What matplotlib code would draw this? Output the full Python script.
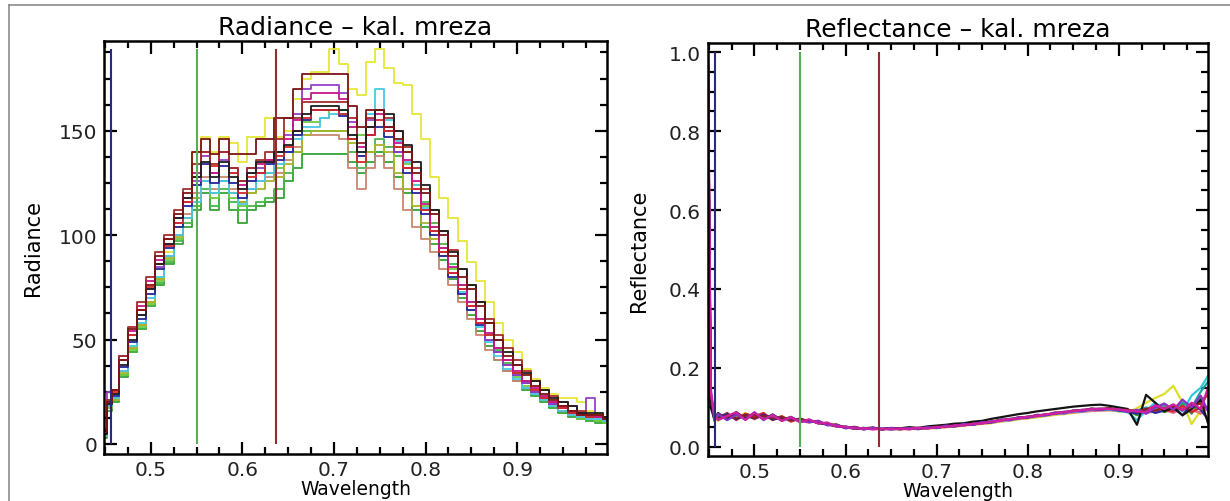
import matplotlib
matplotlib.use("Agg")
import matplotlib.pyplot as plt
from matplotlib.lines import Line2D
from matplotlib.ticker import MultipleLocator, FormatStrFormatter

# ---------------- radiance panel data ----------------
# wavelength samples (micrometres)
wl_rad = [0.449, 0.455,
          0.46, 0.47, 0.48, 0.49, 0.50, 0.51, 0.52, 0.53, 0.54, 0.55,
          0.56, 0.57, 0.58, 0.59, 0.60, 0.61, 0.62, 0.63, 0.64, 0.65,
          0.66, 0.67, 0.68, 0.69, 0.70, 0.71, 0.72, 0.73, 0.74, 0.75,
          0.76, 0.77, 0.78, 0.79, 0.80, 0.81, 0.82, 0.83, 0.84, 0.85,
          0.86, 0.87, 0.88, 0.89, 0.90, 0.91, 0.92, 0.93, 0.94, 0.95,
          0.96, 0.97, 0.98, 0.99,
          0.998]

rad_green = [3, 16,
             20, 32, 44, 55, 66, 76, 86, 96, 104, 112,
             120, 112, 120, 112, 106, 112, 114, 116, 118, 126,
             132, 139, 139, 139, 139, 139, 135, 130, 135, 140,
             135, 128, 120, 112, 104, 96, 88, 79, 70, 62,
             54, 47, 40, 35, 30, 26, 23, 20, 17, 15,
             13, 12, 11, 10,
             10]
rad_green2 = [4, 17,
              21, 33, 44, 55, 66, 77, 87, 97, 106, 114,
              122, 114, 122, 116, 112, 114, 116, 118, 122, 130,
              140, 150, 150, 150, 150, 150, 140, 132, 140, 146,
              142, 138, 132, 124, 116, 106, 96, 86, 76, 68,
              60, 52, 45, 39, 34, 29, 25, 22, 19, 16,
              14, 12, 11, 11,
              10]
rad_lightgreen = [4, 17,
                  21, 33, 45, 56, 67, 78, 88, 98, 108, 118,
                  126, 118, 126, 118, 114, 120, 126, 130, 132, 140,
                  148, 154, 154, 156, 160, 160, 152, 148, 152, 160,
                  150, 142, 134, 124, 114, 104, 94, 84, 74, 66,
                  58, 50, 44, 38, 32, 28, 24, 21, 18, 16,
                  14, 12, 12, 11,
                  10]
rad_yellow = [4, 18,
              22, 35, 47, 58, 68, 80, 92, 104, 118, 140,
              147, 140, 147, 144, 135, 147, 147, 156, 147, 150,
              165, 175, 178, 178, 189, 182, 170, 167, 183, 189,
              180, 173, 172, 158, 146, 128, 118, 108, 97, 87,
              78, 68, 58, 50, 44, 36, 31, 27, 24, 22,
              22, 20, 16, 15,
              13]
rad_salmon = [5, 18,
              22, 35, 46, 57, 68, 79, 90, 100, 110, 120,
              128, 122, 128, 122, 116, 122, 126, 128, 130, 136,
              142, 148, 148, 148, 148, 146, 132, 122, 132, 138,
              132, 122, 112, 104, 98, 92, 84, 76, 68, 60,
              52, 45, 40, 35, 30, 27, 24, 21, 18, 16,
              14, 13, 12, 12,
              11]
rad_olive = [4, 17,
             21, 34, 46, 57, 68, 79, 89, 99, 108, 118,
             126, 120, 126, 120, 116, 120, 122, 126, 128, 134,
             140, 148, 150, 150, 150, 150, 144, 138, 140, 143,
             140, 130, 122, 114, 106, 98, 90, 82, 74, 66,
             58, 50, 44, 38, 33, 29, 26, 23, 20, 18,
             16, 15, 14, 12,
             11]
rad_cyan = [4, 18,
            22, 35, 47, 58, 70, 80, 90, 100, 108, 116,
            126, 120, 126, 120, 115, 122, 126, 130, 134, 140,
            146, 152, 152, 156, 158, 158, 148, 140, 158, 170,
            155, 145, 135, 124, 113, 102, 92, 82, 73, 64,
            56, 49, 42, 36, 31, 27, 24, 21, 18, 16,
            14, 13, 12, 12,
            11]
rad_blue = [5, 19,
            23, 37, 49, 60, 72, 84, 94, 104, 114, 124,
            134, 125, 133, 125, 118, 126, 130, 134, 136, 140,
            148, 155, 160, 160, 160, 157, 146, 138, 148, 152,
            147, 140, 130, 120, 110, 100, 90, 80, 72, 64,
            57, 50, 44, 38, 33, 29, 25, 22, 19, 17,
            15, 14, 13, 13,
            12]
rad_purple = [7, 25,
              24, 40, 52, 62, 74, 85, 96, 106, 116, 126,
              138, 130, 136, 130, 126, 132, 132, 136, 140, 148,
              158, 170, 172, 172, 172, 168, 154, 144, 155, 160,
              150, 140, 132, 122, 112, 102, 92, 82, 74, 66,
              58, 50, 44, 38, 33, 29, 25, 22, 19, 17,
              16, 15, 22, 14,
              13]
rad_red = [6, 21,
           25, 40, 52, 64, 75, 86, 95, 106, 116, 128,
           140, 133, 140, 130, 120, 128, 130, 135, 138, 142,
           150, 156, 160, 160, 160, 158, 146, 135, 148, 155,
           150, 142, 132, 122, 112, 102, 92, 82, 74, 66,
           58, 52, 46, 40, 34, 30, 26, 22, 20, 17,
           15, 14, 13, 13,
           12]
rad_magenta = [5, 20,
               26, 42, 54, 66, 78, 88, 98, 108, 118, 130,
               140, 130, 140, 132, 124, 130, 134, 136, 140, 146,
               155, 165, 168, 168, 168, 165, 152, 142, 152, 158,
               152, 144, 136, 126, 115, 104, 94, 85, 76, 68,
               60, 53, 46, 40, 35, 30, 27, 23, 20, 18,
               16, 14, 14, 13,
               12]
rad_brown = [6, 21,
             26, 42, 56, 68, 80, 92, 100, 112, 122, 134,
             140, 134, 140, 132, 126, 132, 136, 140, 146, 156,
             156, 164, 164, 164, 164, 164, 156, 144, 156, 160,
             156, 150, 142, 132, 122, 112, 102, 93, 84, 76,
             68, 60, 52, 46, 40, 35, 30, 26, 23, 20,
             18, 16, 14, 14,
             13]
rad_black = [5, 19,
             24, 38, 50, 62, 74, 86, 96, 108, 118, 128,
             135, 128, 135, 128, 122, 130, 135, 135, 140, 143,
             150, 158, 162, 162, 162, 160, 148, 140, 152, 160,
             158, 150, 143, 135, 124, 112, 102, 92, 84, 76,
             68, 58, 50, 44, 38, 34, 30, 26, 22, 20,
             18, 15, 15, 15,
             13]
rad_maroon = [6, 20,
              26, 40, 55, 64, 76, 90, 98, 110, 120, 140,
              146, 139, 146, 139, 139, 139, 146, 146, 156, 156,
              170, 177, 177, 177, 177, 177, 162, 152, 160, 160,
              152, 146, 140, 130, 120, 110, 100, 90, 80, 74,
              66, 58, 50, 42, 38, 33, 28, 24, 21, 18,
              16, 14, 14, 14,
              12]

# ---------------- reflectance panel data (per mille) ----------------
wl_ref = [0.449, 0.452, 0.456,
          0.46, 0.47, 0.48, 0.49, 0.50, 0.51, 0.52, 0.53, 0.54, 0.55,
          0.56, 0.57, 0.58, 0.59, 0.60, 0.61, 0.62, 0.63, 0.64, 0.65,
          0.66, 0.67, 0.68, 0.69, 0.70, 0.71, 0.72, 0.73, 0.74, 0.75,
          0.76, 0.77, 0.78, 0.79, 0.80, 0.81, 0.82, 0.83, 0.84, 0.85,
          0.86, 0.87, 0.88, 0.89, 0.90, 0.91, 0.92, 0.93, 0.94, 0.95,
          0.96, 0.97, 0.98, 0.99, 0.998]

ref_black = [880, 100, 70,
             86, 70, 88, 72, 84, 70, 82, 68, 76, 64,
             68, 60, 58, 52, 50, 46, 47, 49, 45, 48,
             47, 50, 48, 52, 54, 56, 59, 60, 64, 66,
             71, 75, 79, 83, 86, 90, 93, 96, 99, 102,
             104, 106, 107, 104, 100, 96, 56, 132, 112, 90,
             100, 80, 96, 120, 60]
ref_yellow = [960, 130, 76,
              66, 84, 72, 86, 70, 82, 68, 78, 66, 72,
              62, 66, 56, 57, 48, 50, 45, 47, 44, 46,
              44, 46, 46, 47, 48, 50, 51, 54, 56, 58,
              60, 64, 66, 70, 72, 75, 78, 81, 83, 86,
              89, 91, 92, 93, 90, 88, 98, 112, 124, 134,
              155, 112, 58, 92, 100]
ref_red = [920, 110, 80,
           72, 86, 68, 84, 78, 86, 68, 78, 64, 72,
           64, 64, 56, 55, 48, 49, 45, 48, 44, 47,
           45, 48, 45, 49, 48, 53, 52, 57, 57, 62,
           63, 68, 69, 74, 75, 80, 81, 86, 87, 92,
           92, 96, 95, 98, 94, 90, 86, 96, 102, 94,
           90, 104, 88, 100, 140]
ref_magenta = [1000, 140, 82,
               68, 78, 88, 68, 86, 70, 80, 66, 76, 62,
               70, 59, 62, 51, 52, 46, 48, 44, 47, 44,
               47, 44, 49, 46, 51, 50, 55, 54, 59, 59,
               65, 66, 71, 72, 77, 78, 83, 84, 89, 90,
               94, 95, 97, 96, 95, 92, 90, 88, 106, 96,
               108, 92, 112, 96, 150]
ref_purple = [980, 150, 66,
              84, 68, 82, 70, 88, 68, 82, 66, 74, 66,
              62, 66, 55, 56, 47, 50, 44, 49, 44, 48,
              45, 48, 46, 50, 48, 54, 52, 58, 56, 63,
              62, 69, 68, 75, 74, 81, 80, 87, 85, 92,
              90, 96, 94, 96, 94, 88, 94, 84, 100, 110,
              94, 120, 100, 130, 90]
ref_blue = [940, 115, 73,
            74, 84, 70, 81, 72, 82, 69, 75, 68, 70,
            64, 64, 56, 55, 49, 49, 46, 46, 45, 47,
            45, 48, 47, 49, 48, 53, 53, 57, 56, 62,
            62, 68, 69, 73, 75, 79, 81, 85, 87, 91,
            91, 97, 94, 98, 92, 90, 84, 96, 86, 92,
            100, 80, 110, 94, 70]
ref_cyan = [900, 105, 77,
            82, 68, 84, 70, 80, 82, 72, 76, 66, 72,
            64, 63, 58, 53, 52, 46, 48, 46, 47, 44,
            47, 46, 45, 49, 49, 52, 52, 56, 57, 61,
            62, 67, 68, 73, 74, 79, 80, 85, 85, 90,
            90, 94, 94, 95, 91, 88, 68, 92, 112, 96,
            104, 90, 130, 150, 180]
ref_green = [930, 125, 69,
             78, 76, 74, 78, 80, 73, 76, 71, 72, 66,
             68, 61, 59, 53, 51, 47, 48, 46, 47, 45,
             46, 47, 47, 48, 50, 52, 53, 56, 57, 60,
             63, 66, 69, 72, 75, 78, 81, 84, 86, 89,
             91, 93, 94, 94, 93, 92, 80, 90, 102, 88,
             96, 110, 84, 120, 130]
ref_pink = [910, 112, 79,
            70, 80, 73, 82, 70, 82, 70, 76, 67, 70,
            63, 65, 56, 54, 49, 49, 46, 46, 45, 46,
            44, 47, 46, 48, 48, 51, 52, 55, 57, 59,
            61, 65, 67, 71, 73, 77, 79, 83, 85, 87,
            89, 91, 92, 93, 91, 90, 92, 86, 90, 94,
            86, 98, 92, 88, 100]
ref_teal = [950, 118, 68,
            80, 73, 80, 73, 79, 75, 77, 70, 73, 65,
            67, 61, 59, 53, 51, 47, 48, 46, 46, 45,
            47, 46, 48, 47, 51, 51, 55, 55, 59, 60,
            65, 66, 71, 72, 77, 78, 83, 84, 89, 90,
            94, 95, 97, 95, 95, 90, 92, 100, 94, 106,
            98, 112, 100, 140, 165]
ref_orange = [890, 108, 74,
              74, 78, 76, 76, 76, 78, 72, 74, 69, 69,
              65, 64, 57, 55, 49, 49, 46, 48, 45, 47,
              45, 48, 46, 49, 49, 52, 54, 55, 58, 60,
              63, 66, 70, 72, 76, 78, 82, 84, 88, 89,
              93, 93, 95, 95, 94, 92, 88, 94, 96, 104,
              92, 100, 96, 84, 100]
ref_maroon = [970, 135, 78,
              72, 80, 72, 80, 73, 79, 72, 75, 68, 71,
              63, 66, 55, 57, 48, 51, 45, 48, 45, 47,
              46, 47, 47, 49, 49, 53, 53, 57, 58, 62,
              63, 69, 69, 75, 75, 81, 81, 87, 87, 92,
              92, 97, 96, 98, 94, 94, 90, 96, 92, 98,
              102, 94, 104, 110, 96]

# band markers
band_wl = [0.457, 0.55, 0.637]
band_colors = ["#2a2a7a", "#55b055", "#8e2e2e"]

rad_curves = [(rad_green, "#34a234"), (rad_green2, "#48b448"), (rad_lightgreen, "#6ccc40"),
              (rad_yellow, "#e6e63a"), (rad_salmon, "#c8866e"), (rad_olive, "#a8b42a"),
              (rad_cyan, "#48c8e6"), (rad_blue, "#24249a"), (rad_purple, "#9640c8"),
              (rad_red, "#d42828"), (rad_magenta, "#c8168c"), (rad_brown, "#a52d2d"),
              (rad_black, "#1e1e1e"), (rad_maroon, "#7d1414")]
ref_curves = [(ref_yellow, "#dede2a"), (ref_green, "#34a234"), (ref_orange, "#e08020"),
              (ref_pink, "#e070a0"), (ref_cyan, "#30c8dc"), (ref_teal, "#20a0a0"),
              (ref_red, "#d42828"), (ref_blue, "#2828a0"), (ref_black, "#141414"),
              (ref_maroon, "#8c2020"), (ref_purple, "#8c30c8"), (ref_magenta, "#d020a0")]

plt.rcParams["font.family"] = ["DejaVu Sans"]

fig = plt.figure(figsize=(12.3, 5.02), dpi=100)
ax1 = fig.add_axes([104 / 1230, 1 - 455 / 502, 503 / 1230, 413 / 502])
ax2 = fig.add_axes([708 / 1230, 1 - 457 / 502, 500 / 1230, 413 / 502])


def style_axes(ax, ymajor, yminor, yfmt):
    ax.xaxis.set_major_locator(MultipleLocator(0.1))
    ax.xaxis.set_minor_locator(MultipleLocator(0.025))
    ax.yaxis.set_major_locator(MultipleLocator(ymajor))
    ax.yaxis.set_minor_locator(MultipleLocator(yminor))
    ax.xaxis.set_major_formatter(FormatStrFormatter("%.1f"))
    ax.yaxis.set_major_formatter(FormatStrFormatter(yfmt))
    ax.tick_params(which="both", direction="in", top=True, right=True,
                   width=1.6, labelsize=14.5, pad=5, colors="black", labelcolor="#222222")
    ax.tick_params(axis="x", which="major", pad=4)
    ax.tick_params(which="major", length=9)
    ax.tick_params(which="minor", length=5)
    for s in ax.spines.values():
        s.set_linewidth(1.8)
    ax.set_xlim(0.449, 0.998)


# left: radiance
for vals, c in rad_curves:
    ax1.plot(wl_rad, vals, color=c, lw=1.3, drawstyle="steps-mid")
rad_top = max(max(v) for v, _ in rad_curves)
ax1.vlines(band_wl, 0, rad_top, colors=band_colors, lw=1.5)
style_axes(ax1, 50, 12.5, "%d")
ax1.set_ylim(-4.8, 193)
ax1.set_title("Radiance – kal. mreza", fontsize=18, pad=5)
ax1.set_xlabel("Wavelength", fontsize=13.5, labelpad=0)
ax1.set_ylabel("Radiance", fontsize=15, labelpad=11)

# right: reflectance
for vals, c in ref_curves:
    ax2.plot(wl_ref, [v / 1000 for v in vals], color=c, lw=1.6)
ref_top = max(max(v) for v, _ in ref_curves) / 1000
ax2.vlines(band_wl, 0, ref_top, colors=band_colors, lw=1.5)
style_axes(ax2, 0.2, 0.05, "%.1f")
ax2.set_ylim(-0.023, 1.023)
ax2.set_title("Reflectance – kal. mreza", fontsize=18, pad=5)
ax2.set_xlabel("Wavelength", fontsize=13.5, labelpad=0)
ax2.set_ylabel("Reflectance", fontsize=15, labelpad=14)

# outer picture frame
fig.add_artist(Line2D([9 / 1230, 9 / 1230], [0, 1 - 6 / 502], transform=fig.transFigure,
                      color="#8a8a8a", lw=1.2))
fig.add_artist(Line2D([9 / 1230, 1], [1 - 6 / 502, 1 - 6 / 502], transform=fig.transFigure,
                      color="#8a8a8a", lw=1.2))

fig.savefig("out.png", dpi=100)
